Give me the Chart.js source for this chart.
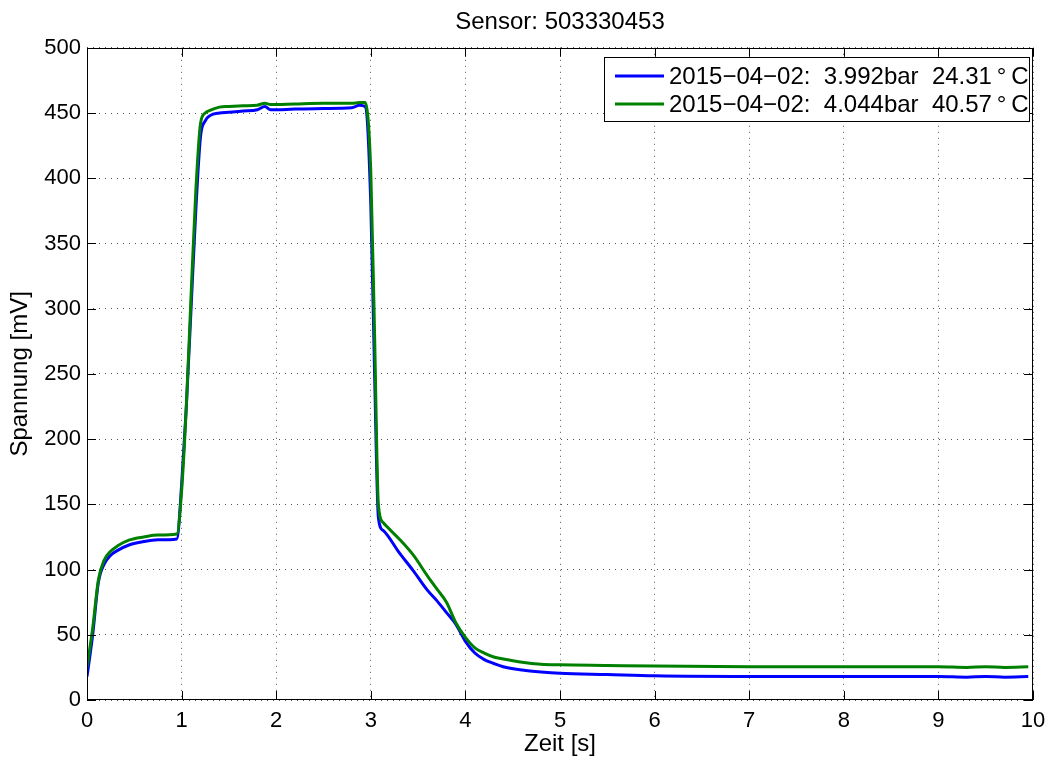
<!DOCTYPE html>
<html>
<head>
<meta charset="utf-8">
<title>Sensor: 503330453</title>
<script src="https://cdn.jsdelivr.net/npm/chart.js@4/dist/chart.umd.min.js"></script>
<style>
    html, body { margin: 0; padding: 0; background: #fff; }
    #wrap { width: 1057px; height: 760px; }
</style>
</head>
<body>
<div id="wrap"><canvas id="sensorChart" width="1057" height="760"></canvas></div>
<script>
// Zeitachse [s] (gemeinsam fuer beide Messungen)
var times = [0, 0.06, 0.12, 0.18, 0.25, 0.32, 0.45, 0.6, 0.75, 0.95,
    1.0, 1.05, 1.1, 1.15, 1.2, 1.25, 1.3, 1.4, 1.5, 1.65,
    1.8, 1.88, 1.94, 2.2, 2.5, 2.8, 2.88, 2.94, 3.0, 3.04,
    3.08, 3.13, 3.3, 3.45, 3.6, 3.7, 3.8, 3.9, 4.0, 4.1,
    4.2, 4.3, 4.4, 4.6, 4.8, 5.0, 5.5, 6.0, 7.0, 8.0,
    9.0, 9.3, 9.5, 9.7, 9.95];

// Spannung [mV], Messung 1 (blau)
var blueValues = [18, 50, 90, 104, 111, 114.5, 119, 121.5, 122.8, 123.5,
    165, 225, 300, 375, 432, 444, 448, 450, 450.5, 451.5,
    452.5, 455, 452.5, 453, 453.5, 454, 456, 455, 380, 250,
    140, 130, 113, 99, 84, 76, 67, 58, 45, 36,
    31, 28, 25.5, 23, 21.5, 20.5, 19.5, 18.5, 18, 18,
    18, 17.5, 18, 17.5, 18];

// Spannung [mV], Messung 2 (gruen)
var greenValues = [25, 55, 92, 107, 114, 118, 122.7, 125, 126.5, 127.3,
    160, 225, 310, 390, 442, 450, 452, 454.5, 455, 455.5,
    456, 457.5, 456.5, 457, 457.5, 457.5, 458, 458, 405, 280,
    150, 136, 123.5, 111, 95, 85, 75, 59, 48, 40,
    36, 33, 31.5, 29, 27.5, 27, 26.5, 26, 25.5, 25.5,
    25.5, 25, 25.5, 25, 25.5];

var seriesLabels = [
    '2015\u221204\u221202:  3.992bar  24.31\u2009\u00b0\u2009C',
    '2015\u221204\u221202:  4.044bar  40.57\u2009\u00b0\u2009C'
];
var seriesColors = ['#0000ff', '#008000'];

function toPoints(values) {
    return times.map(function (t, i) { return { x: t, y: values[i] }; });
}

// Rahmen mit Ticks nach innen + Legende im Diagramm (MATLAB-Stil)
var matlabFrame = {
    id: 'matlabFrame',
    afterDraw: function (chart) {
        var ctx = chart.ctx;
        var a = chart.chartArea;
        var x = chart.scales.x, y = chart.scales.y;
        var tickLen = 9;
        ctx.save();
        ctx.strokeStyle = '#000';
        ctx.lineWidth = 1;
        ctx.beginPath();
        x.ticks.forEach(function (t) {
            var px = Math.round(x.getPixelForValue(t.value)) + 0.5;
            ctx.moveTo(px, a.bottom); ctx.lineTo(px, a.bottom - tickLen);
            ctx.moveTo(px, a.top); ctx.lineTo(px, a.top + tickLen);
        });
        y.ticks.forEach(function (t) {
            var py = Math.round(y.getPixelForValue(t.value)) + 0.5;
            ctx.moveTo(a.left, py); ctx.lineTo(a.left + tickLen, py);
            ctx.moveTo(a.right, py); ctx.lineTo(a.right - tickLen, py);
        });
        ctx.stroke();
        ctx.strokeRect(Math.round(a.left) + 0.5, Math.round(a.top) + 0.5,
            Math.round(a.width) - 1, Math.round(a.height) - 1);

        // Legende
        var bw = 425, bh = 64;
        var bx = Math.round(a.right) - 4 - bw, by = Math.round(a.top) + 9;
        ctx.fillStyle = '#fff';
        ctx.fillRect(bx, by, bw, bh);
        ctx.strokeRect(bx + 0.5, by + 0.5, bw, bh);
        ctx.font = '24px "Liberation Sans", Arial, sans-serif';
        ctx.textBaseline = 'middle';
        ctx.textAlign = 'left';
        seriesLabels.forEach(function (label, i) {
            var ly = by + 19 + i * 28;
            ctx.strokeStyle = seriesColors[i];
            ctx.lineWidth = 3;
            ctx.beginPath();
            ctx.moveTo(bx + 11, ly); ctx.lineTo(bx + 60, ly);
            ctx.stroke();
            ctx.fillStyle = '#000';
            ctx.fillText(label, bx + 65, ly + 1);
        });
        ctx.restore();
    }
};

Chart.defaults.font.family = '"Liberation Sans", Arial, Helvetica, sans-serif';
Chart.defaults.color = '#000';

var ctx = document.getElementById('sensorChart').getContext('2d');
var sensorChart = new Chart(ctx, {
    type: 'line',
    data: {
        datasets: [{
            label: seriesLabels[0],
            data: toPoints(blueValues),
            borderColor: seriesColors[0],
            borderWidth: 3,
            pointRadius: 0,
            fill: false,
            cubicInterpolationMode: 'monotone',
            order: 1
        }, {
            label: seriesLabels[1],
            data: toPoints(greenValues),
            borderColor: seriesColors[1],
            borderWidth: 3,
            pointRadius: 0,
            fill: false,
            cubicInterpolationMode: 'monotone',
            order: 0
        }]
    },
    plugins: [matlabFrame],
    options: {
        responsive: false,
        animation: false,
        devicePixelRatio: 1,
        layout: { padding: { left: 0, right: 24, top: 0, bottom: 0 } },
        plugins: {
            legend: { display: false },
            tooltip: { enabled: false },
            title: {
                display: true,
                fullSize: false,
                text: 'Sensor: 503330453',
                color: '#000',
                font: { size: 24, weight: 'normal' },
                padding: { top: 8, bottom: 11 }
            }
        },
        scales: {
            x: {
                type: 'linear',
                min: 0,
                max: 10,
                ticks: { stepSize: 1, padding: 8, maxRotation: 0, autoSkip: false, font: { size: 22 } },
                grid: { color: '#555', lineWidth: 1, drawTicks: false },
                border: { display: false, dash: [1, 5] },
                title: { display: true, text: 'Zeit [s]', font: { size: 24 }, padding: { top: 0, bottom: 1 } },
                afterFit: function (scale) { scale.height = 60; }
            },
            y: {
                min: 0,
                max: 500,
                ticks: { stepSize: 50, padding: 6, font: { size: 22 } },
                grid: { color: '#555', lineWidth: 1, drawTicks: false },
                border: { display: false, dash: [1, 5] },
                title: { display: true, text: 'Spannung [mV]', font: { size: 24 }, padding: { top: 6, bottom: 0 } },
                afterFit: function (scale) { scale.width = 87; }
            }
        }
    }
});
</script>
</body>
</html>
